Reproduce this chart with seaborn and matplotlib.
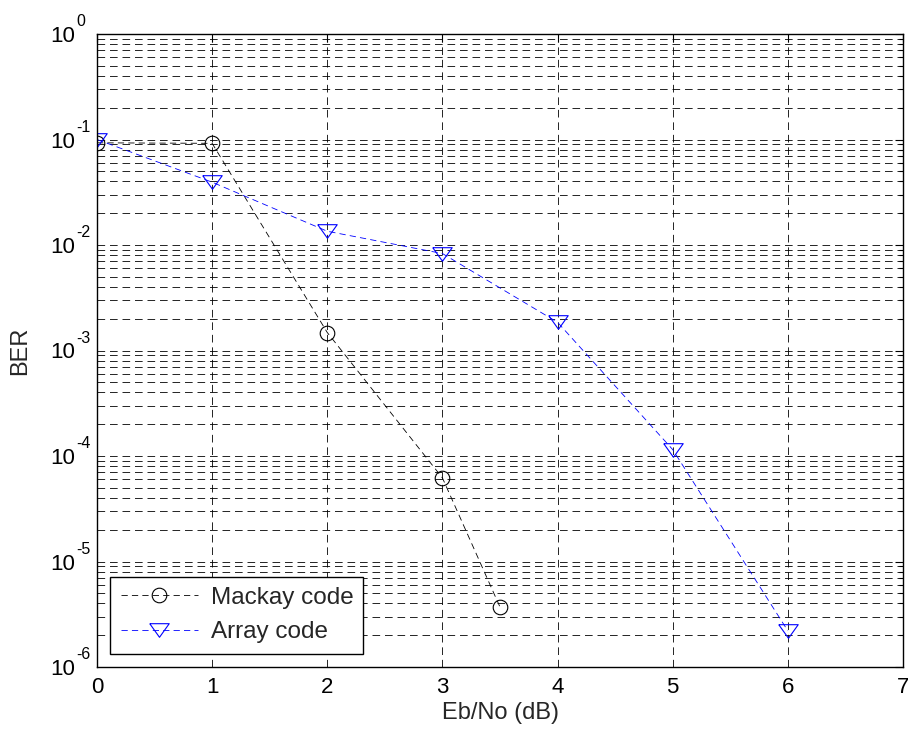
import numpy as np
import pandas as pd
import matplotlib
matplotlib.use("Agg")
import matplotlib.pyplot as plt
import matplotlib.ticker as mticker
import seaborn as sns

# ---- data ----
mackay_x = [0, 1, 2, 3, 3.5]
mackay_ber = [0.093, 0.092, 1.48e-3, 6.2e-5, 3.7e-6]
array_x = [0, 1, 2, 3, 4, 5, 6]
array_ber = [0.1, 0.0394, 0.0135, 0.0083, 0.00185, 1.15e-4, 2.2e-6]
labels = ["Mackay code", "Array code"]
xticks = [0, 1, 2, 3, 4, 5, 6, 7]
yexps = [0, -1, -2, -3, -4, -5, -6]

sns.set_style("white")
plt.rcParams['font.family'] = ['Liberation Sans', 'DejaVu Sans']
plt.rcParams['axes.unicode_minus'] = False
plt.rcParams['lines.scale_dashes'] = False

fig = plt.figure(figsize=(9.08, 7.31), dpi=100)
ax = fig.add_axes([97/908, 1-667/731, (903-97)/908, (667-34)/731])

df_m = pd.DataFrame({"x": mackay_x, "ber": mackay_ber})
df_a = pd.DataFrame({"x": array_x, "ber": array_ber})

tri = [(-1, 0.7), (1, 0.7), (0, -0.7), (-1, 0.7)]
dash = (0, (4.5, 3.0))

sns.lineplot(data=df_m, x="x", y="ber", ax=ax, color="black", linewidth=0.6,
             linestyle=dash, marker="o", markersize=10.5, markerfacecolor="none",
             markeredgecolor="black", markeredgewidth=0.8, sort=False,
             estimator=None, label=labels[0])
sns.lineplot(data=df_a, x="x", y="ber", ax=ax, color="#0000ff", linewidth=0.6,
             linestyle=dash, marker=tri, markersize=14, markerfacecolor="none",
             markeredgecolor="#0000ff", markeredgewidth=0.8, sort=False,
             estimator=None, label=labels[1])

ax.set_yscale("log")
ax.set_xlim(0, 7)
ax.set_ylim(1e-6, 1)
ax.set_xticks(xticks)
ax.set_xticklabels([str(t) for t in xticks])
ax.set_yticks([10.0**e for e in yexps])
ax.set_yticklabels(["10" for e in yexps])
ax.yaxis.set_minor_locator(mticker.LogLocator(base=10, subs=np.arange(2, 10), numticks=20))
ax.yaxis.set_minor_formatter(mticker.NullFormatter())

ax.tick_params(axis="both", which="both", direction="in", top=True, right=True,
               labelsize=16, colors="black", width=0.8)
ax.tick_params(axis="x", which="major", length=6, pad=7)
ax.tick_params(axis="y", which="major", length=6, pad=16)
ax.tick_params(axis="y", which="minor", length=3)

# exponents of the y tick labels
for e in yexps:
    ax.annotate(str(e), xy=(0, 10.0**e), xycoords=("axes fraction", "data"),
                xytext=(-15.0, 5.5), textcoords="offset points",
                ha="left", va="baseline", fontsize=11.5, color="black",
                annotation_clip=False)

gkw = dict(color="black", linewidth=0.6, linestyle=(0, (5.5, 3.5)))
ax.grid(True, which="major", axis="both", **gkw)
ax.grid(True, which="minor", axis="y", **gkw)
ax.set_axisbelow(True)

for s in ax.spines.values():
    s.set_visible(True)
    s.set_color("black")
    s.set_linewidth(1.0)

ax.set_xlabel("Eb/No (dB)", fontsize=17, labelpad=3)
ax.set_ylabel("BER", fontsize=17, labelpad=13.5)

leg = ax.legend(loc="lower left", fontsize=17.5, frameon=True, fancybox=False,
                handlelength=3.2, borderpad=0.42, labelspacing=0.52,
                handletextpad=0.5, borderaxespad=0.55, numpoints=1)
leg.get_frame().set_edgecolor("black")
leg.get_frame().set_linewidth(1.0)
leg.get_frame().set_alpha(1)

fig.savefig("out.png", dpi=100)
